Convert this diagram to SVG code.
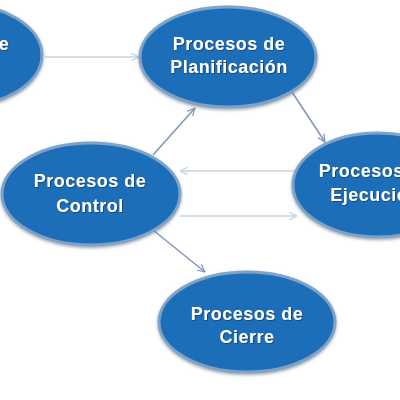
<svg xmlns="http://www.w3.org/2000/svg" width="400" height="400" viewBox="0 0 400 400">
<defs>
<filter id="glow" x="-20%" y="-20%" width="140%" height="140%">
<feDropShadow dx="0" dy="1.5" stdDeviation="1.5" flood-color="#4a5a70" flood-opacity="0.55"/>
</filter>
<filter id="ts" x="-10%" y="-20%" width="120%" height="150%">
<feDropShadow dx="0.8" dy="0.8" stdDeviation="0.4" flood-color="#0d2a4a" flood-opacity="0.7"/>
</filter>
<marker id="ad" viewBox="0 0 10 10" refX="9.5" refY="5" markerWidth="9" markerHeight="9" markerUnits="userSpaceOnUse" orient="auto">
<path d="M1,1 L9.5,5 L1,9" fill="none" stroke="#8597bd" stroke-width="1.4"/>
</marker>
<marker id="al" viewBox="0 0 10 10" refX="9.5" refY="5" markerWidth="9" markerHeight="9" markerUnits="userSpaceOnUse" orient="auto">
<path d="M1,1 L9.5,5 L1,9" fill="none" stroke="#c4d4de" stroke-width="1.4"/>
</marker>
</defs>
<style>
.node ellipse{fill:#1b6eb9;stroke:#7fa3c6;stroke-width:3;filter:url(#glow)}
.node text{font-family:"Liberation Sans",Arial,sans-serif;font-weight:bold;font-size:18px;fill:#ffffff;letter-spacing:0.5px;text-anchor:middle;filter:url(#ts)}
.cd{stroke:#8597bd;stroke-width:1.6;fill:none;marker-end:url(#ad)}
.cl{stroke:#c4d4de;stroke-width:1.6;fill:none;marker-end:url(#al)}
</style>
<rect width="400" height="400" fill="#ffffff"/>
<g id="connectors">
<line class="cl" x1="45" y1="57" x2="139" y2="57"/>
<line class="cd" x1="153" y1="155" x2="195" y2="108"/>
<line class="cd" x1="292" y1="92" x2="325" y2="142"/>
<line class="cl" x1="298" y1="171" x2="180" y2="171"/>
<line class="cl" x1="180" y1="216" x2="297" y2="216"/>
<line class="cd" x1="153" y1="230" x2="205" y2="272"/>
</g>
<g id="iniciacion" class="node">
<ellipse cx="-45" cy="55" rx="87" ry="52"/>
<text x="4" y="50">e</text>
</g>
<g id="planificacion" class="node">
<ellipse cx="228" cy="57" rx="88" ry="50"/>
<text x="229" y="50">Procesos de</text>
<text x="229" y="73">Planificación</text>
</g>
<g id="control" class="node">
<ellipse cx="91" cy="194" rx="89" ry="51"/>
<text x="90" y="187">Procesos de</text>
<text x="90" y="212">Control</text>
</g>
<g id="ejecucion" class="node">
<ellipse cx="378" cy="185" rx="85" ry="52"/>
<text x="375" y="177">Procesos de</text>
<text x="375" y="201">Ejecución</text>
</g>
<g id="cierre" class="node">
<ellipse cx="247" cy="322" rx="88" ry="50"/>
<text x="247" y="320">Procesos de</text>
<text x="247" y="343">Cierre</text>
</g>
</svg>
